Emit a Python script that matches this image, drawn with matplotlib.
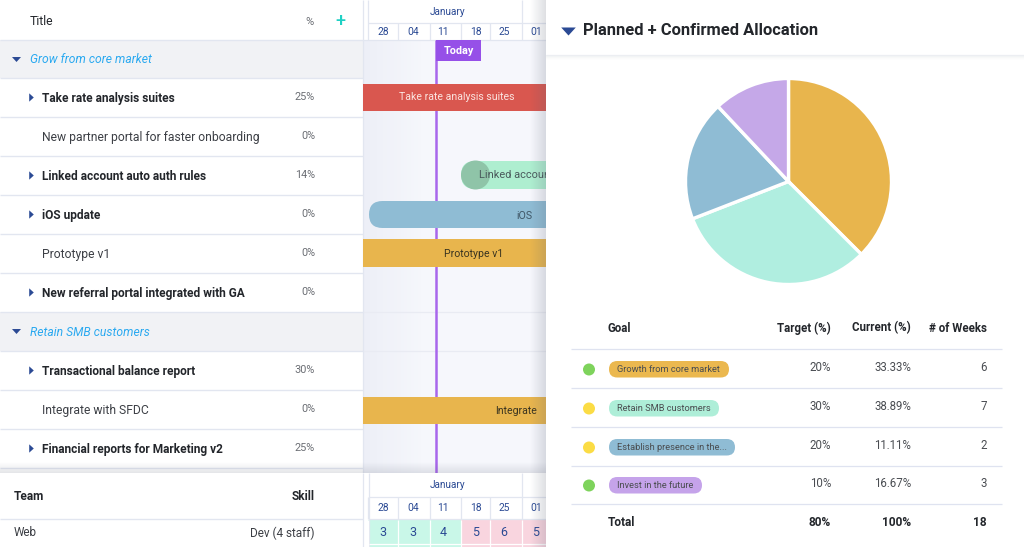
import numpy as np
import matplotlib
matplotlib.use("Agg")
import matplotlib.pyplot as plt
from matplotlib.patches import Rectangle, FancyBboxPatch, Circle

plt.rcParams['font.family'] = ['Roboto', 'DejaVu Sans']

W, H = 1024, 547

# ---------------- data ----------------
row_titles = ['Grow from core market', 'Take rate analysis suites', 'New partner portal for faster onboarding',
              'Linked account auto auth rules', 'iOS update', 'Prototype v1',
              'New referral portal integrated with GA', 'Retain SMB customers',
              'Transactional balance report', 'Integrate with SFDC', 'Financial reports for Marketing v2']
row_kinds = ['group', 'bold', 'plain', 'bold', 'bold', 'plain', 'bold', 'group', 'bold', 'plain', 'bold']
row_pct = ['', '25%', '0%', '14%', '0%', '0%', '0%', '', '30%', '0%', '25%']

week_labels = ['28', '04', '11', '18', '25', '01']
staff_load = [3, 3, 4, 5, 6, 5]

pie_values = [37.5, 31.6, 18.9, 12.0]
pie_colors = ['#e8b54d', '#b0eee0', '#8fbcd4', '#c5a8e8']

goal_names = ['Growth from core market', 'Retain SMB customers', 'Establish presence in the...', 'Invest in the future']
goal_target = ['20%', '30%', '20%', '10%']
goal_current = ['33.33%', '38.89%', '11.11%', '16.67%']
goal_weeks = ['6', '7', '2', '3']
goal_status = ['#7ed35c', '#fbdc45', '#fbdc45', '#7ed35c']
goal_pills = ['#ebb84f', '#aeeed8', '#8fbcd4', '#c5a3ea']
goal_pill_right = [729, 719, 735, 702]
goal_total = ['Total', '80%', '100%', '18']

# ---------------- layout ----------------
row_lines = [40, 78, 117, 156, 195, 234, 273, 312, 351, 390, 429, 468]
week_edges = [368, 398, 430, 461, 490, 522, 546]
week_centers = [383, 413, 443, 476, 504, 536]
line_col = '#e2e6f0'
navy = '#2b4a94'
dark = '#23262b'
grey = '#6b6e74'

# flattened triangles, marker y points up whatever the axis does
tri_down = [(-1, 0.55), (1, 0.55), (0, -0.55)]
tri_right = [(-0.55, -1), (0.55, 0), (-0.55, 1)]

fig = plt.figure(figsize=(W / 100, H / 100), dpi=100)
ax = fig.add_axes([0, 0, 1, 1])
ax.set_xlim(0, W)
ax.set_ylim(H, 0)
ax.axis('off')


def box(x0, y0, x1, y1, color, z=1, **kw):
    ax.add_patch(Rectangle((x0, y0), x1 - x0, y1 - y0, fc=color, ec='none', zorder=z, **kw))


def hline(y, x0, x1, z=2, lw=0.9, color=line_col):
    ax.plot([x0, x1], [y, y], color=color, lw=lw, zorder=z, solid_capstyle='butt')


def vline(x, y0, y1, z=2, lw=0.9, color=line_col):
    ax.plot([x, x], [y0, y1], color=color, lw=lw, zorder=z, solid_capstyle='butt')


def pill(x0, y0, x1, y1, color, z=4):
    r = (y1 - y0) / 2
    ax.add_patch(FancyBboxPatch((x0 + r, y0 + r), x1 - x0 - 2 * r, 0,
                                boxstyle=f'round,pad={r}', fc=color, ec='none', zorder=z))


def shade(x0, x1, y0, y1, alpha_from, alpha_to, z, color=(0.35, 0.38, 0.45)):
    # horizontal shadow strip
    a = np.linspace(alpha_from, alpha_to, 64)[None, :, None]
    img = np.concatenate([np.ones((1, 64, 3)) * np.array(color), a], axis=2)
    ax.imshow(img, extent=[x0, x1, y1, y0], aspect='auto', zorder=z, interpolation='bilinear')


def shade_v(x0, x1, y0, y1, alpha_from, alpha_to, z, color=(0.35, 0.38, 0.45)):
    a = np.linspace(alpha_from, alpha_to, 64)[:, None, None]
    img = np.concatenate([np.ones((64, 1, 3)) * np.array(color), a], axis=2)
    ax.imshow(img, extent=[x0, x1, y1, y0], aspect='auto', zorder=z, interpolation='bilinear')


# ---------------- gantt background ----------------
box(363, 40, 546, 473, '#f6f7fc', z=0)
shade(363, 425, 40, 473, 0.07, 0.0, 0.5, color=(0.45, 0.52, 0.70))
box(363, 0, 546, 40, 'white', z=1)
vline(363, 0, 547, z=3)
vline(368, 0, 40)
hline(23, 368, 546)
hline(39.5, 363, 546)
for x in week_edges[1:-1]:
    vline(x, 23, 40)
vline(522, 0, 23)
ax.text(447, 12, 'January', ha='center', va='center', fontsize=7.2, color=navy)
for x, lab in zip(week_centers, week_labels):
    ax.text(x, 32, lab, ha='center', va='center', fontsize=7.4, color=navy)
hline(312, 363, 546, z=0.8, color='#e9ebf3')
hline(351, 363, 546, z=0.8, color='#e9ebf3')

# ---------------- left table ----------------
ax.text(30, 21.5, 'Title', ha='left', va='center', fontsize=8.8, color=dark)
ax.text(309, 22, '%', ha='center', va='center', fontsize=8, color=grey)
ax.text(340, 21, '+', ha='center', va='center', fontsize=13, color='#1fd0c4', fontweight='medium')
for i, (title, kind, pct) in enumerate(zip(row_titles, row_kinds, row_pct)):
    y0, y1 = row_lines[i], row_lines[i + 1]
    yc = (y0 + y1) / 2 + 0.7
    if kind == 'group':
        box(0, y0 - 0.5, 363, y1 - 0.5, '#f1f2f5')
        ax.plot([16], [yc - 1], marker=tri_down, ms=6.5, color=navy, zorder=4, mec='none')
        ax.text(30, yc, title, ha='left', va='center', fontsize=8.75, color='#2aa9f0', style='italic')
    else:
        weight = 'bold' if kind == 'bold' else 'normal'
        col = dark if kind == 'bold' else '#3c3f45'
        if kind == 'bold':
            ax.plot([31], [yc - 1], marker=tri_right, ms=6, color=navy, zorder=4, mec='none')
        ax.text(42, yc, title, ha='left', va='center', fontsize=8.6 if kind == 'bold' else 8.75,
                color=col, fontweight=weight)
        ax.text(315, yc - 1, pct, ha='right', va='center', fontsize=7.8, color=grey)
for y in row_lines:
    hline(y - 0.5, 0, 363, lw=1.0)

# ---------------- gantt bars ----------------
vline(436, 40, 473, z=3, lw=1.8, color='#a866ec')
box(436, 40, 481, 61, '#9650e8', z=5)
ax.text(458.5, 50.5, 'Today', ha='center', va='center', fontsize=7.8, color='white', fontweight='bold', zorder=6)

box(363, 84, 546, 111, '#d9574f', z=4)
ax.text(457, 97.5, 'Take rate analysis suites', ha='center', va='center', fontsize=7.6, color='#fbe4e0', zorder=6)

pill(461, 161, 560, 189, '#aeeed0')
ax.add_patch(Circle((475.5, 175), 14.5, fc='#8fc4a8', ec='none', zorder=5))
ax.text(479, 175.5, 'Linked account', ha='left', va='center', fontsize=7.9, color='#4a5a5c', zorder=6)

pill(369, 201, 570, 228, '#8fbcd4')
ax.text(524, 216, 'iOS', ha='center', va='center', fontsize=7.7, color='#3f5666', zorder=6)

box(363, 239, 546, 267, '#e8b54d', z=4)
ax.text(473.5, 254, 'Prototype v1', ha='center', va='center', fontsize=7.6, color='#3a3420', zorder=6)

box(363, 397, 546, 424, '#e8b54d', z=4)
ax.text(516.5, 411, 'Integrate', ha='center', va='center', fontsize=7.6, color='#3a3420', zorder=6)

# ---------------- bottom strip ----------------
shade_v(0, 546, 462, 473, 0.0, 0.16, 6)
box(0, 473, 546, 547, 'white', z=7)
hline(519, 0, 363, z=8, lw=1.0)
vline(363, 473, 547, z=8)
ax.text(14, 496.5, 'Team', ha='left', va='center', fontsize=8.6, color=dark, fontweight='bold', zorder=8)
ax.text(315, 496.5, 'Skill', ha='right', va='center', fontsize=8.6, color=dark, fontweight='bold', zorder=8)
ax.text(14, 533, 'Web', ha='left', va='center', fontsize=8.5, color='#3c3f45', zorder=8)
ax.text(315, 533, 'Dev (4 staff)', ha='right', va='center', fontsize=8.5, color='#3c3f45', zorder=8)

vline(369, 473, 547, z=8)
hline(497, 369, 546, z=8)
hline(519, 369, 546, z=8)
vline(522, 473, 497, z=8)
ax.text(447, 485.5, 'January', ha='center', va='center', fontsize=7.2, color=navy, zorder=9)
for i, (lab, n) in enumerate(zip(week_labels, staff_load)):
    x0, x1 = week_edges[i], week_edges[i + 1]
    vline(x0, 497, 519, z=8)
    box(x0, 520, x1, 547, '#c9f7e8' if n < 5 else '#f9d5df', z=7.5)
    vline(x0, 520, 547, z=8, color='white')
    ax.text(week_centers[i], 508, lab, ha='center', va='center', fontsize=7.4, color=navy, zorder=9)
    ax.text(week_centers[i], 533, str(n), ha='center', va='center', fontsize=9, color=navy, zorder=9)
hline(544, 369, 546, z=8, color='white')

# ---------------- right panel ----------------
shade(530, 546, 0, 547, 0.0, 0.20, 9)
box(546, 0, W, H, 'white', z=10)
shade_v(546, W, 55, 60, 0.09, 0.0, 11)
hline(55, 546, W, z=11, color='#eceef2')
ax.plot([568], [31], marker=tri_down, ms=10.5, color=navy, mec='none', zorder=12)
ax.text(583, 30.5, 'Planned + Confirmed Allocation', ha='left', va='center', fontsize=11.9,
        color=dark, fontweight='bold', zorder=12)

# pie
pie_ax = fig.add_axes([(788.5 - 110) / W, 1 - (181.5 + 110) / H, 220 / W, 220 / H], zorder=5)
pie_ax.pie(pie_values, colors=pie_colors, startangle=90, counterclock=False, radius=103 / 110,
           wedgeprops=dict(edgecolor='white', linewidth=2.4))
pie_ax.set_xlim(-1, 1)
pie_ax.set_ylim(-1, 1)

# goal table
ZT = 12
for x, lab, ha in [(608, 'Goal', 'left'), (831, 'Target (%)', 'right'),
                   (911, 'Current (%)', 'right'), (987, '# of Weeks', 'right')]:
    ax.text(x, 328, lab, ha=ha, va='center', fontsize=8.3, color=dark, fontweight='bold', zorder=ZT)
for y in [349, 388, 427, 466, 504]:
    hline(y, 571, 1002, z=ZT, color='#dfe3f0')
row_tops = [361, 400, 439, 477]
for i, name in enumerate(goal_names):
    y0 = row_tops[i]
    yc = y0 + 8.5
    ax.add_patch(Circle((589, yc), 6, fc=goal_status[i], ec='none', zorder=ZT))
    pill(609, y0, goal_pill_right[i], y0 + 16.5, goal_pills[i], z=ZT)
    ax.text(617, yc, name, ha='left', va='center', fontsize=6.7, color='#4a4d50', zorder=ZT + 1)
    ax.text(831, yc - 2, goal_target[i], ha='right', va='center', fontsize=8.3, color='#4a4d52', zorder=ZT)
    ax.text(911, yc - 2, goal_current[i], ha='right', va='center', fontsize=8.3, color='#4a4d52', zorder=ZT)
    ax.text(987, yc - 2, goal_weeks[i], ha='right', va='center', fontsize=8.3, color='#4a4d52', zorder=ZT)
for x, lab, ha in zip([608, 831, 911, 987], goal_total, ['left', 'right', 'right', 'right']):
    ax.text(x, 522, lab, ha=ha, va='center', fontsize=8.6, color=dark, fontweight='bold', zorder=ZT)

ax.set_xlim(0, W)
ax.set_ylim(H, 0)
fig.savefig('out.png', dpi=100)
